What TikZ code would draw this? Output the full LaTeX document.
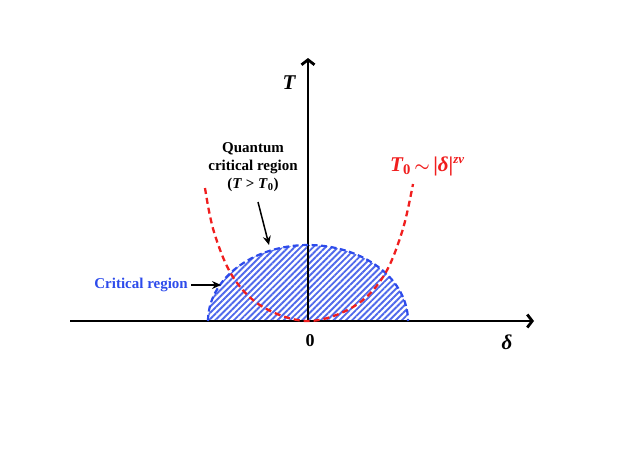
\documentclass[tikz,border=0pt]{standalone}
\usepackage{amsmath}
\usepackage{fontspec}
\setmainfont{Liberation Serif}
\usetikzlibrary{arrows.meta,patterns.meta}
\definecolor{hatchblue}{RGB}{80,105,235}
\definecolor{lineblue}{RGB}{45,75,235}
\definecolor{curvered}{RGB}{240,30,30}
\tikzset{
  axis/.style={line width=2.8pt,-{Straight Barb[length=5pt,width=13pt]}},
  pointer/.style={line width=1.5pt,-{Stealth[length=9pt,width=8pt,inset=3pt]}},
  lbl/.style={font=\bfseries\fontsize{15}{18}\selectfont,align=center,inner sep=0pt},
  biglbl/.style={font=\bfseries\itshape\fontsize{21}{24}\selectfont,inner sep=0pt},
}
\begin{document}
\begin{tikzpicture}[x=1pt,y=-1pt]
\useasboundingbox (0,0) rectangle (623,467);
% hatched critical region
\fill[pattern={Lines[angle=45,distance=4.4pt,line width=1.9pt]},pattern color=hatchblue]
  plot[domain=180:360,samples=80] ({308+100*cos(\x)},{321+76*sin(\x)}) -- cycle;
% axes
\coordinate (o) at (308,321);
\coordinate (xl) at (70,321);
\coordinate (xr) at (534,321);
\coordinate (yt) at (308,58);
\draw[axis] (xl) -- (xr);
\draw[axis] (o) -- (yt);
% dashed outline of critical region
\draw[lineblue,line width=2.2pt,dash pattern=on 6pt off 3.5pt]
  plot[domain=180:360,samples=80] ({308+100*cos(\x)},{321+76*sin(\x)});
% crossover curve
\draw[curvered,line width=2.3pt,dash pattern=on 6pt off 4pt]
  plot[smooth,tension=0.6] coordinates {(205,188) (214,232) (233,277) (263,307) (308,321) (353,307) (383,277) (402,232) (413,184)};
% labels
\node[biglbl] (T) at (289,83) {T};
\node[font=\bfseries\fontsize{18}{20}\selectfont,inner sep=0pt] (zero) at (310,341) {0};
\node[biglbl] (d) at (507,342) {δ};
\node[lbl] (qcr) at (253,167) {Quantum\\critical region\\(\textit{T} > \textit{T}\textsubscript{0})};
\node[lbl,text=lineblue,anchor=east] (cr) at (188,285) {Critical region};
\node[biglbl,text=curvered,anchor=west] (T0) at (390,166) {T\textsubscript{\upshape 0}\,{\upshape\fontsize{19}{20}\selectfont$\boldsymbol{\sim}$}\,{\upshape|}δ{\upshape|}\raisebox{8pt}{\fontsize{13}{14}\selectfont zν}};
% pointers
\coordinate (qtip) at (269,245);
\coordinate (ctip) at (221,285);
\draw[pointer] (258,202) -- (qtip);
\draw[pointer] (cr.east) ++(3,0) -- (ctip);
\end{tikzpicture}
\end{document}
